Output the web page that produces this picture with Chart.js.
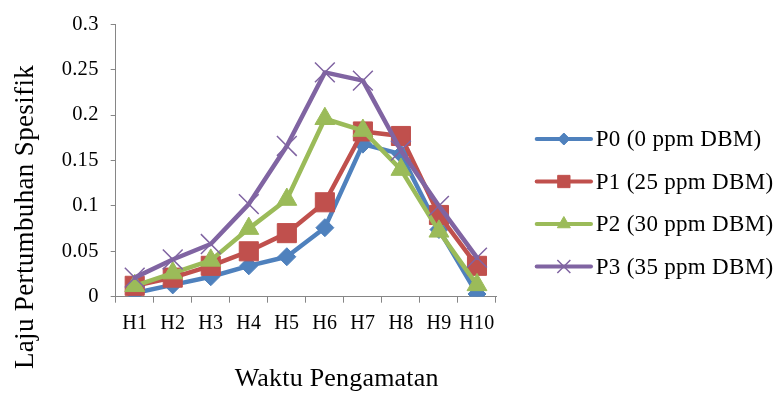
<!DOCTYPE html>
<html>
<head>
<meta charset="utf-8">
<script src="https://cdn.jsdelivr.net/npm/chart.js"></script>
<style>
  html, body { margin: 0; padding: 0; background: #ffffff; }
  #wrap { width: 779px; height: 396px; position: relative; }
</style>
</head>
<body>
<div id="wrap"><canvas id="growth"></canvas></div>
<script>
// Observation days
const categories = ['H1', 'H2', 'H3', 'H4', 'H5', 'H6', 'H7', 'H8', 'H9', 'H10'];

// Series names (DBM concentration)
const seriesNames = ['P0 (0 ppm DBM)', 'P1 (25 ppm DBM)', 'P2 (30 ppm DBM)', 'P3 (35 ppm DBM)'];

// Specific growth rate per treatment
const p0Values = [0.004, 0.013, 0.022, 0.034, 0.044, 0.076, 0.168, 0.157, 0.074, 0.003];
const p1Values = [0.012, 0.021, 0.034, 0.050, 0.070, 0.104, 0.182, 0.177, 0.090, 0.034];
const p2Values = [0.012, 0.026, 0.040, 0.075, 0.107, 0.196, 0.183, 0.140, 0.072, 0.013];
const p3Values = [0.021, 0.041, 0.058, 0.102, 0.166, 0.247, 0.238, 0.161, 0.100, 0.043];

// Value axis ticks
const yTickValues = [0, 0.05, 0.1, 0.15, 0.2, 0.25, 0.3];
const yTickLabels = ['0', '0.05', '0.1', '0.15', '0.2', '0.25', '0.3'];

const xTitle = 'Waktu Pengamatan';
const yTitle = 'Laju Pertumbuhan Spesifik';

const seriesValues = [p0Values, p1Values, p2Values, p3Values];

// Visual style for each series
const seriesStyles = [
  { color: '#4F81BD', pointStyle: 'rectRot',  radius: 9,    legendRadius: 6,   pointBorderWidth: 1 },
  { color: '#C0504D', pointStyle: 'rect',     radius: 13.5, legendRadius: 8.7, pointBorderWidth: 1 },
  { color: '#9BBB59', pointStyle: 'triangle', radius: 11.5, legendRadius: 7.5, pointBorderWidth: 1 },
  { color: '#8064A2', pointStyle: 'crossRot', radius: 14,   legendRadius: 9.2, pointBorderWidth: 1.5 }
];

const FONT = '"Liberation Serif", "Times New Roman", serif';
const AXIS_GRAY = '#868686';

const datasets = seriesValues.map((vals, i) => {
  const s = seriesStyles[i];
  return {
    label: seriesNames[i],
    data: vals,
    borderColor: s.color,
    backgroundColor: s.color,
    borderWidth: 4.5,
    borderJoinStyle: 'round',
    borderCapStyle: 'round',
    tension: 0,
    pointStyle: s.pointStyle,
    pointRadius: s.radius,
    pointBorderWidth: s.pointBorderWidth,
    pointBorderColor: s.color,
    pointBackgroundColor: s.color,
    order: seriesValues.length - 1 - i
  };
});

// Axis captions and a line+marker legend on the right
const captionsPlugin = {
  id: 'captions',
  beforeDraw(chart) {
    chart.ctx.letterSpacing = '0.3px';
  },
  afterDraw(chart) {
    const ctx = chart.ctx;
    const a = chart.chartArea;
    ctx.save();
    ctx.fillStyle = '#000000';

    // category axis caption
    ctx.font = '26px ' + FONT;
    ctx.letterSpacing = '0.2px';
    ctx.textAlign = 'center';
    ctx.textBaseline = 'alphabetic';
    ctx.fillText(xTitle, a.left + 221, a.bottom + 89.3);

    // value axis caption
    ctx.save();
    ctx.font = '27px ' + FONT;
    ctx.letterSpacing = '0.35px';
    ctx.translate(32.7, a.top + 192.7);
    ctx.rotate(-Math.PI / 2);
    ctx.fillText(yTitle, 0, 0);
    ctx.restore();

    // legend
    const drawPoint = Chart.helpers && Chart.helpers.drawPoint;
    chart.data.datasets.forEach((ds, i) => {
      const s = seriesStyles[i];
      const y = a.top + 114.7 + i * 42.5;
      const x0 = a.right + 40.7;
      const x1 = a.right + 95;
      ctx.strokeStyle = s.color;
      ctx.fillStyle = s.color;
      ctx.lineWidth = 4;
      ctx.lineCap = 'round';
      ctx.beginPath();
      ctx.moveTo(x0, y);
      ctx.lineTo(x1, y);
      ctx.stroke();
      if (drawPoint) {
        ctx.lineWidth = s.pointBorderWidth;
        ctx.lineCap = 'butt';
        drawPoint(ctx, { pointStyle: s.pointStyle, radius: s.legendRadius, borderWidth: s.pointBorderWidth, rotation: 0 }, (x0 + x1) / 2, y);
      }
      ctx.fillStyle = '#000000';
      ctx.font = '23px ' + FONT;
      ctx.letterSpacing = '0.3px';
      ctx.textAlign = 'left';
      ctx.textBaseline = 'middle';
      ctx.fillText(ds.label, a.right + 99.7, y + 1);
    });
    ctx.restore();
  }
};

new Chart(document.getElementById('growth'), {
  type: 'line',
  data: { labels: categories, datasets: datasets },
  plugins: [captionsPlugin],
  options: {
    responsive: true,
    maintainAspectRatio: false,
    animation: false,
    events: [],
    layout: { padding: { left: 0, top: 19.3, right: 283, bottom: 0 } },
    plugins: {
      legend: { display: false },
      tooltip: { enabled: false },
      title: { display: false }
    },
    scales: {
      x: {
        type: 'category',
        offset: true,
        grid: {
          display: true,
          offset: true,
          drawOnChartArea: false,
          drawTicks: true,
          tickLength: 6,
          color: AXIS_GRAY,
          lineWidth: 1
        },
        border: { display: true, color: AXIS_GRAY, width: 1 },
        ticks: {
          color: '#000000',
          font: { family: FONT, size: 20 },
          padding: 9,
          maxRotation: 0,
          autoSkip: false
        },
        afterFit(scale) { scale.height = 99.3; }
      },
      y: {
        min: 0,
        max: 0.3,
        afterBuildTicks(scale) {
          scale.ticks = yTickValues.map(v => ({ value: v }));
        },
        grid: {
          display: true,
          drawOnChartArea: false,
          drawTicks: true,
          tickLength: 5,
          color: AXIS_GRAY,
          lineWidth: 1
        },
        border: { display: true, color: AXIS_GRAY, width: 1 },
        ticks: {
          color: '#000000',
          font: { family: FONT, size: 20.5 },
          padding: 12,
          callback: (value, index) => yTickLabels[index]
        },
        afterFit(scale) { scale.width = 115.7; }
      }
    }
  }
});
</script>
</body>
</html>
